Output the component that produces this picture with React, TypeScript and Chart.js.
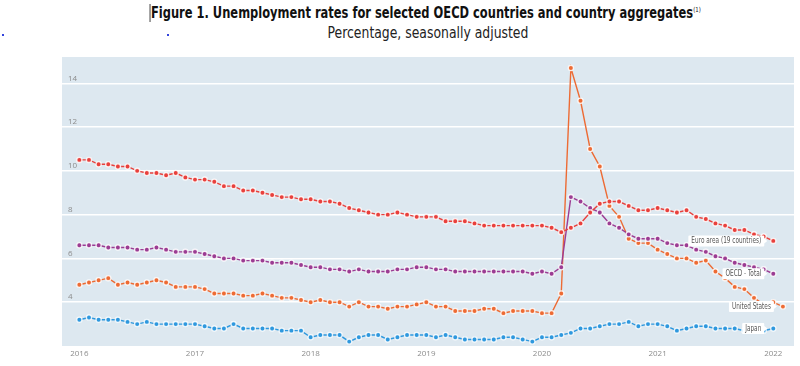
import React, { useEffect, useRef } from "react";
import { Chart, registerables } from "chart.js";

Chart.register(...registerables);

// Monthly observations, index 0 = January 2016
const yearTicks = [2016, 2017, 2018, 2019, 2020, 2021, 2022];
const yTicks = [4, 6, 8, 10, 12, 14];

const euroArea = [
  10.5, 10.5, 10.3, 10.3, 10.2, 10.2, 10.0, 9.9, 9.9, 9.8, 9.9, 9.7,
  9.6, 9.6, 9.5, 9.3, 9.3, 9.1, 9.1, 9.0, 8.9, 8.8, 8.8, 8.7,
  8.7, 8.6, 8.6, 8.5, 8.3, 8.2, 8.1, 8.0, 8.0, 8.1, 8.0, 7.9,
  7.9, 7.9, 7.7, 7.7, 7.7, 7.6, 7.5, 7.5, 7.5, 7.5, 7.5, 7.5,
  7.5, 7.4, 7.2, 7.4, 7.6, 8.1, 8.5, 8.6, 8.6, 8.4, 8.2, 8.2,
  8.3, 8.2, 8.1, 8.2, 7.9, 7.8, 7.6, 7.5, 7.3, 7.3, 7.1, 7.0,
  6.8,
];

const oecdTotal = [
  6.6, 6.6, 6.6, 6.5, 6.5, 6.5, 6.4, 6.4, 6.5, 6.4, 6.3, 6.3,
  6.3, 6.2, 6.1, 6.0, 6.0, 5.9, 5.9, 5.9, 5.8, 5.8, 5.8, 5.7,
  5.6, 5.6, 5.5, 5.5, 5.4, 5.5, 5.4, 5.4, 5.4, 5.5, 5.5, 5.6,
  5.6, 5.5, 5.5, 5.4, 5.4, 5.4, 5.4, 5.4, 5.4, 5.4, 5.4, 5.3,
  5.4, 5.3, 5.6, 8.8, 8.6, 8.3, 8.1, 7.6, 7.4, 7.1, 6.9, 6.9,
  6.9, 6.7, 6.6, 6.6, 6.4, 6.3, 6.1, 6.0, 5.8, 5.7, 5.6, 5.5,
  5.3,
];

const unitedStates = [
  4.8, 4.9, 5.0, 5.1, 4.8, 4.9, 4.8, 4.9, 5.0, 4.9, 4.7, 4.7,
  4.7, 4.6, 4.4, 4.4, 4.4, 4.3, 4.3, 4.4, 4.3, 4.2, 4.2, 4.1,
  4.0, 4.1, 4.0, 4.0, 3.8, 4.0, 3.8, 3.8, 3.7, 3.8, 3.8, 3.9,
  4.0, 3.8, 3.8, 3.6, 3.6, 3.6, 3.7, 3.7, 3.5, 3.6, 3.6, 3.6,
  3.5, 3.5, 4.4, 14.7, 13.2, 11.0, 10.2, 8.4, 7.9, 6.9, 6.7, 6.7,
  6.4, 6.2, 6.0, 6.0, 5.8, 5.9, 5.4, 5.1, 4.7, 4.6, 4.2, 3.9,
  4.0, 3.8,
];

const japan = [
  3.2, 3.3, 3.2, 3.2, 3.2, 3.1, 3.0, 3.1, 3.0, 3.0, 3.0, 3.0,
  3.0, 2.9, 2.8, 2.8, 3.0, 2.8, 2.8, 2.8, 2.8, 2.7, 2.7, 2.7,
  2.4, 2.5, 2.5, 2.5, 2.2, 2.4, 2.5, 2.5, 2.3, 2.4, 2.5, 2.5,
  2.5, 2.4, 2.5, 2.4, 2.3, 2.3, 2.3, 2.3, 2.4, 2.4, 2.3, 2.2,
  2.4, 2.4, 2.5, 2.6, 2.8, 2.8, 2.9, 3.0, 3.0, 3.1, 2.9, 3.0,
  3.0, 2.9, 2.7, 2.8, 2.9, 2.9, 2.8, 2.8, 2.8, 2.7, 2.8, 2.7,
  2.8,
];

const seriesNames = ["Euro area (19 countries)", "OECD - Total", "United States", "Japan"];
const seriesValues = [euroArea, oecdTotal, unitedStates, japan];
const seriesColors = ["#e8403c", "#9b3c93", "#ed6b34", "#2e98de"];

const PLOT_BG = "#dde8f0";
const LABEL_FONT = '8px "DejaVu Sans Condensed", "Open Sans", sans-serif';

const backgroundPlugin = {
  id: "plotBackground",
  beforeDraw(chart: any) {
    const { ctx, chartArea } = chart;
    ctx.save();
    ctx.fillStyle = PLOT_BG;
    ctx.fillRect(chartArea.left, chartArea.top, chartArea.right - chartArea.left, chartArea.bottom - chartArea.top);
    ctx.restore();
  },
};

const endLabelPlugin = {
  id: "endLabels",
  afterDatasetsDraw(chart: any) {
    const { ctx } = chart;
    ctx.save();
    ctx.font = LABEL_FONT;
    chart.data.datasets.forEach((ds: any, di: number) => {
      const meta = chart.getDatasetMeta(di);
      const pt = meta.data[meta.data.length - 1];
      if (!pt) return;
      const text = ds.label as string;
      const tw = ctx.measureText(text).width * 0.8;
      const w = tw + 6;
      const h = 11;
      const right = pt.x - 9;
      const left = right - w;
      const top = pt.y - h / 2;
      ctx.fillStyle = "#ffffff";
      ctx.beginPath();
      ctx.moveTo(left + 1, top);
      ctx.lineTo(right - 1, top);
      ctx.quadraticCurveTo(right, top, right, top + 1);
      ctx.lineTo(right, pt.y - 2.5);
      ctx.lineTo(right + 3, pt.y);
      ctx.lineTo(right, pt.y + 2.5);
      ctx.lineTo(right, top + h - 1);
      ctx.quadraticCurveTo(right, top + h, right - 1, top + h);
      ctx.lineTo(left + 1, top + h);
      ctx.quadraticCurveTo(left, top + h, left, top + h - 1);
      ctx.lineTo(left, top + 1);
      ctx.quadraticCurveTo(left, top, left + 1, top);
      ctx.closePath();
      ctx.fill();
      ctx.fillStyle = "#555555";
      ctx.textBaseline = "middle";
      ctx.textAlign = "left";
      ctx.fillText(text, left + 3, pt.y + 0.5, tw);
    });
    ctx.restore();
  },
};

const zeroPad = (s: any) => {
  s.paddingTop = 0;
  s.paddingBottom = 0;
  s.paddingLeft = 0;
  s.paddingRight = 0;
};

export default function App() {
  const canvasRef = useRef<HTMLCanvasElement | null>(null);

  useEffect(() => {
    const canvas = canvasRef.current;
    if (!canvas) return;
    const chart = new Chart(canvas, {
      type: "line",
      data: {
        datasets: seriesNames.map((name, si) => ({
          label: name,
          data: seriesValues[si].map((v, i) => ({ x: i, y: v })),
          borderColor: seriesColors[si],
          backgroundColor: seriesColors[si],
          borderWidth: 1.4,
          tension: 0,
          pointRadius: 2.6,
          pointBorderWidth: 1.3,
          pointBorderColor: "rgba(255,255,255,0.85)",
          pointBackgroundColor: seriesColors[si],
          fill: false,
        })),
      },
      options: {
        animation: false,
        responsive: false,
        devicePixelRatio: 1,
        layout: { padding: { left: 62, right: 6, top: 7, bottom: 0 } },
        plugins: { legend: { display: false }, tooltip: { enabled: false }, title: { display: false } },
        scales: {
          x: {
            type: "linear",
            min: -1.8,
            max: 74.15,
            afterFit: (s: any) => { s.height = 20; zeroPad(s); },
            afterBuildTicks: (s: any) => { s.ticks = yearTicks.map((y) => ({ value: (y - yearTicks[0]) * 12 })); },
            grid: { display: false, drawTicks: false },
            border: { display: false },
            ticks: {
              color: "#8c8c8c",
              font: { size: 8, family: '"Open Sans", sans-serif' },
              padding: 3,
              maxRotation: 0,
              autoSkip: false,
              callback: (v: any) => String(yearTicks[0] + Math.round(Number(v) / 12)),
            },
          },
          y: {
            type: "linear",
            min: 2,
            max: 15.2,
            afterFit: (s: any) => { s.width = 0; zeroPad(s); },
            afterBuildTicks: (s: any) => { s.ticks = yTicks.map((v) => ({ value: v })); },
            grid: { color: "#ffffff", lineWidth: 1.5, drawTicks: false },
            border: { display: false },
            ticks: {
              mirror: true,
              padding: 6,
              labelOffset: -5,
              color: "#8c8c8c",
              font: { size: 8, family: '"Open Sans", sans-serif' },
            },
          },
        },
      },
      plugins: [backgroundPlugin, endLabelPlugin],
    });
    return () => chart.destroy();
  }, []);

  const titleFont = '"DejaVu Sans Condensed", "Liberation Sans", sans-serif';

  return (
    <div style={{ position: "fixed", left: 0, top: 0, width: 800, height: 366, background: "#fff", overflow: "hidden" }}>
      <div style={{ position: "absolute", left: 2, top: 34, width: 2, height: 2, background: "#3344dd" }} />
      <div style={{ position: "absolute", left: 167, top: 34, width: 2, height: 2, background: "#3344dd" }} />
      <div
        style={{
          position: "absolute",
          left: 0,
          top: 3,
          width: 850,
          textAlign: "center",
          fontFamily: titleFont,
          fontWeight: "bold",
          fontSize: 15,
          lineHeight: "20px",
          color: "#111",
          whiteSpace: "nowrap",
          transform: "scaleX(0.85)",
          transformOrigin: "425px 0",
        }}
      >
        <span style={{ borderLeft: "1px solid #222", paddingLeft: 1 }}>Figure 1. Unemployment rates for selected OECD countries and country aggregates</span>
        <sup style={{ fontSize: 7, fontWeight: "normal", verticalAlign: "top", lineHeight: "14px" }}>(1)</sup>
      </div>
      <div
        style={{
          position: "absolute",
          left: 0,
          top: 23,
          width: 856,
          textAlign: "center",
          fontFamily: titleFont,
          fontSize: 15,
          lineHeight: "20px",
          color: "#222",
          whiteSpace: "nowrap",
          transform: "scaleX(0.92)",
          transformOrigin: "428px 0",
        }}
      >
        Percentage, seasonally adjusted
      </div>
      <canvas ref={canvasRef} width={800} height={316} style={{ position: "absolute", left: 0, top: 50, width: 800, height: 316 }} />
    </div>
  );
}
